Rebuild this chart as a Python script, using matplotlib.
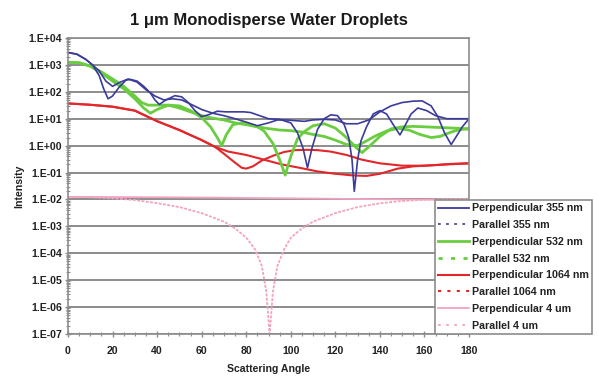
import matplotlib
matplotlib.use("Agg")
import matplotlib.pyplot as plt
from matplotlib.lines import Line2D
from matplotlib.ticker import LogLocator, MultipleLocator, NullFormatter, FixedLocator

plt.rcParams['font.family'] = ['Liberation Sans', 'DejaVu Sans']

# ---------------- data ----------------
perp355_ang = [0, 4, 8, 11, 14, 16, 18, 20, 23, 26, 28, 31, 34, 37, 39, 41, 44, 48, 51, 54, 57, 60,
               63, 67, 71, 75, 79, 82, 86, 90, 95, 100, 103, 105.5, 107.5, 109.5, 112, 115, 118, 121,
               124, 126, 127.5, 128.5, 130, 131.5, 134, 137, 140, 143, 146, 149, 151, 154, 157, 161,
               165, 170, 175, 180]
perp355_val = [2900, 2500, 1600, 1000, 400, 130, 55, 70, 150, 270, 290, 250, 160, 90, 50, 34, 50, 72, 65,
               40, 20, 12, 14, 19, 18, 18, 18, 17, 13, 10, 9.5, 7, 3, 0.8, 0.15, 0.8, 4, 10, 14, 13,
               6, 2, 0.3, 0.02, 0.3, 1.5, 5, 15, 20, 15, 6, 2.5, 5, 15, 25, 20,
               13, 10, 10, 10]

par355_ang = [0, 4, 8, 11, 14, 17, 20, 23, 27, 31, 35, 39, 43, 47, 51, 55, 60, 65, 70, 75, 80, 85, 90,
              94, 98, 102, 106, 110, 115, 120, 125, 130, 135, 140, 145, 150, 155, 159, 163, 166, 169,
              172, 174, 177, 180]
par355_val = [2900, 2500, 1600, 1000, 600, 250, 160, 220, 300, 230, 120, 70, 50, 55, 50, 35, 22, 16, 13,
              10, 7.5, 5.5, 7, 9, 9, 8.5, 8, 9, 9.5, 9, 6.5, 6.5, 9, 18, 30, 40, 45, 46, 30, 12, 3,
              1.1, 2, 5, 10]

perp532_ang = [0, 5, 10, 15, 20, 25, 30, 34, 37, 40, 45, 50, 55, 60, 64, 67, 69, 71, 74, 78, 82, 85, 88,
               92, 95, 97.5, 100, 103, 106, 110, 115, 120, 125, 129, 132, 135, 140, 145, 150, 155, 160,
               165, 170, 175, 180]
perp532_val = [1250, 1200, 900, 500, 250, 130, 55, 25, 16, 22, 32, 30, 20, 11, 5, 2, 1.0, 2.5, 6, 7, 6,
               5, 3.5, 1.2, 0.3, 0.08, 0.4, 1.8, 3.3, 5.5, 6.5, 4.5, 2, 0.9, 0.55, 0.9, 2.2, 4.2, 5,
               5.2, 5.0, 4.8, 4.6, 4.4, 4.2]

par532_ang = [0, 5, 10, 15, 20, 25, 30, 33, 36, 40, 45, 50, 55, 60, 65, 70, 75, 80, 85, 90, 95, 100,
              105, 110, 115, 120, 125, 130, 134, 138, 143, 148, 153, 158, 163, 167, 172, 176, 180]
par532_val = [1250, 1200, 900, 550, 300, 160, 70, 40, 32, 32, 32, 25, 18, 13, 10.5, 9, 7, 6, 5, 4.3,
              3.8, 3.6, 3.2, 2.6, 2.2, 1.6, 1.1, 1.0, 1.5, 2.3, 3.5, 4.4, 3.8, 2.6, 2.0, 2.2, 3.2, 4.0,
              4.2]

perp1064_ang = [0, 10, 20, 30, 40, 50, 60, 66, 70, 74, 78, 80, 83, 87, 92, 97, 102, 107, 112, 118, 125,
                132, 140, 150, 160, 170, 180]
perp1064_val = [37, 33, 28, 20, 8.1, 3.8, 1.6, 0.9, 0.5, 0.27, 0.15, 0.14, 0.17, 0.28, 0.42, 0.58, 0.68,
                0.7, 0.68, 0.6, 0.45, 0.3, 0.22, 0.18, 0.18, 0.2, 0.22]

par1064_ang = [0, 10, 20, 30, 40, 50, 60, 66, 72, 80, 88, 96, 104, 112, 120, 128, 134, 140, 148, 155,
               165, 172, 180]
par1064_val = [37, 33, 28, 20, 8.1, 3.8, 1.6, 0.9, 0.6, 0.45, 0.3, 0.2, 0.15, 0.11, 0.09, 0.078, 0.075,
               0.09, 0.14, 0.17, 0.19, 0.21, 0.22]

perp4_ang = [0, 30, 60, 90, 120, 150, 180]
perp4_val = [0.0125, 0.0122, 0.0118, 0.0112, 0.0106, 0.0100, 0.0097]

par4_ang = [0, 10, 20, 30, 40, 50, 60, 70, 75, 80, 84, 87, 89, 90.5, 92, 94, 97, 100, 105, 110, 120,
            130, 140, 150, 160, 170, 180]
par4_val = [0.0125, 0.0122, 0.011, 0.0095, 0.0073, 0.0052, 0.0031, 0.0015, 8.4e-4, 3.8e-4, 1.4e-4,
            3.4e-5, 3.8e-6, 1e-7, 3.8e-6, 3.4e-5, 1.4e-4, 3.8e-4, 8.4e-4, 0.0015, 0.0031, 0.0052,
            0.0072, 0.0088, 0.0098, 0.0103, 0.0105]

labels = ["Perpendicular 355 nm", "Parallel 355 nm", "Perpendicular 532 nm", "Parallel 532 nm",
          "Perpendicular 1064 nm", "Parallel 1064 nm", "Perpendicular 4 um", "Parallel 4 um"]
ytick_vals = [1e-7, 1e-6, 1e-5, 1e-4, 1e-3, 1e-2, 1e-1, 1e0, 1e1, 1e2, 1e3, 1e4]
ytick_labels = ["1.E-07", "1.E-06", "1.E-05", "1.E-04", "1.E-03", "1.E-02", "1.E-01", "1.E+00",
                "1.E+01", "1.E+02", "1.E+03", "1.E+04"]
xtick_vals = [0, 20, 40, 60, 80, 100, 120, 140, 160, 180]

# ---------------- styling ----------------
c_blue = "#3b3b9c"
c_blue_par = "#4a4a8a"
c_green = "#6acd40"
c_red = "#e2262a"
c_pink = "#f3a3c2"
dense = (0, (1.6, 0.8))

fig = plt.figure(figsize=(5.99, 3.77), dpi=100)
ax = fig.add_axes([68/599, 1-334/377, (469-68)/599, (334-38)/377])
ax.set_yscale("log")
ax.set_xlim(0, 180)
ax.set_ylim(1e-7, 1e4)

ax.yaxis.grid(True, which="major", color="#8c8c8c", linewidth=1.4)
ax.set_axisbelow(True)

ax.plot(perp4_ang, perp4_val, color=c_pink, lw=1.3)
ax.plot(par4_ang, par4_val, color=c_pink, lw=1.3, ls=dense)
ax.plot(perp1064_ang, perp1064_val, color=c_red, lw=1.5)
ax.plot(par1064_ang, par1064_val, color=c_red, lw=1.5)
ax.plot(perp532_ang, perp532_val, color=c_green, lw=2.0)
ax.plot(par532_ang, par532_val, color=c_green, lw=2.0)
ax.plot(perp355_ang, perp355_val, color=c_blue, lw=1.2)
ax.plot(par355_ang, par355_val, color=c_blue, lw=1.2)

ax.yaxis.set_major_locator(FixedLocator(ytick_vals))
ax.set_yticklabels(ytick_labels)
ax.yaxis.set_minor_locator(LogLocator(base=10, subs=range(2, 10), numticks=100))
ax.yaxis.set_minor_formatter(NullFormatter())
ax.set_xticks(xtick_vals)
ax.xaxis.set_minor_locator(MultipleLocator(5))

for s in ax.spines.values():
    s.set_color("#8c8c8c")
    s.set_linewidth(1.2)
ax.tick_params(axis="both", which="major", labelsize=7.6, colors="#8c8c8c", labelcolor="#222222",
               direction="inout", length=5, width=1)
ax.tick_params(axis="both", which="minor", colors="#8c8c8c", direction="inout", length=3, width=0.8)
for lab in ax.get_xticklabels() + ax.get_yticklabels():
    lab.set_fontweight("bold")
ax.tick_params(axis="y", pad=2)
ax.tick_params(axis="x", pad=6)

ax.set_xlabel("Scattering Angle", fontsize=7.6, fontweight="bold", color="#222222", labelpad=6)
ax.set_ylabel("Intensity", fontsize=7.6, fontweight="bold", color="#222222", labelpad=3)
ax.set_title("1 \u03bcm Monodisperse Water Droplets", fontsize=12, fontweight="bold",
             color="#1a1a1a", pad=9)

handles = [
    Line2D([], [], color=c_blue, lw=1.3),
    Line2D([], [], color=c_blue_par, lw=1.3, ls=(0, (1.5, 3))),
    Line2D([], [], color=c_green, lw=2.0),
    Line2D([], [], color=c_green, lw=2.0, ls=(0, (1.5, 3))),
    Line2D([], [], color=c_red, lw=1.5),
    Line2D([], [], color=c_red, lw=1.5, ls=(0, (1.5, 3))),
    Line2D([], [], color=c_pink, lw=1.3),
    Line2D([], [], color=c_pink, lw=1.3, ls=(0, (1.5, 3))),
]
leg = fig.legend(handles, labels, loc="upper left", bbox_to_anchor=(435/599, 1-200/377),
                 prop={"weight": "bold", "size": 7.7}, frameon=True, fancybox=False,
                 edgecolor="#8c8c8c", framealpha=1, borderpad=0.32, labelspacing=0.63,
                 handlelength=2.9, handletextpad=0.25, borderaxespad=0)
leg.get_frame().set_linewidth(1.2)
for t in leg.get_texts():
    t.set_color("#222222")

fig.savefig("out.png", dpi=100)
